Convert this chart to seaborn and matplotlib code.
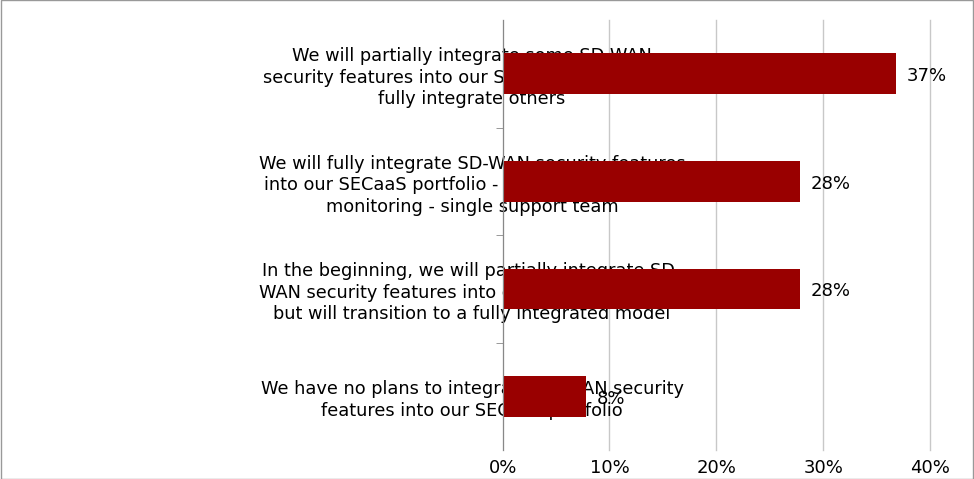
import matplotlib
matplotlib.use("Agg")
import matplotlib.pyplot as plt
import seaborn as sns
import pandas as pd
from matplotlib.ticker import FuncFormatter, FixedLocator

categories = [
    "We will partially integrate some SD-WAN\nsecurity features into our SECaaS portfolio and\nfully integrate others",
    "We will fully integrate SD-WAN security features\ninto our SECaaS portfolio - single pane of glass\nmonitoring - single support team",
    "In the beginning, we will partially integrate SD-\nWAN security features into our SECaaS portfolio\nbut will transition to a fully integrated model",
    "We have no plans to integrate SD-WAN security\nfeatures into our SECaaS portfolio",
]
values = [36.8, 27.8, 27.8, 7.8]
value_labels = ["37%", "28%", "28%", "8%"]

df = pd.DataFrame({"cat": categories, "val": values})
fig = plt.figure(figsize=(9.74, 4.79), dpi=100)
ax = fig.add_axes([0.516, 0.06, 0.439, 0.898])
sns.barplot(data=df, y="cat", x="val", color="#990000", width=0.38, ax=ax, saturation=1)
ax.set_xlim(0, 40)
ax.set_ylim(3.5, -0.5)
ax.set_xticks([0, 10, 20, 30, 40])
ax.xaxis.set_major_formatter(FuncFormatter(lambda v, p: f"{v:.0f}%"))
ax.grid(axis="x", color="#c8c8c8", linewidth=1)
for gl in ax.get_xgridlines():
    gl.set_clip_on(False)
ax.set_axisbelow(True)
for s in ["top", "right", "bottom"]:
    ax.spines[s].set_visible(False)
ax.spines["left"].set_color("#888888")
ax.tick_params(axis="x", length=0, labelsize=13, pad=6)
ax.tick_params(axis="y", length=0, labelsize=12.8, pad=22)
for lab in ax.get_yticklabels():
    lab.set_horizontalalignment("center")
    lab.set_linespacing(1.25)
ax.yaxis.set_minor_locator(FixedLocator([0.5, 1.5, 2.5]))
ax.tick_params(axis="y", which="minor", length=5, color="#888888", direction="out")
ax.set_xlabel("")
ax.set_ylabel("")
for i, (v, t) in enumerate(zip(values, value_labels)):
    ax.text(v + 1.0, i + 0.02, t, va="center", ha="left", fontsize=13)
fig.patches.append(plt.Rectangle((0.001, 0.001), 0.998, 0.998, transform=fig.transFigure,
                                 fill=False, edgecolor="#999999", linewidth=1))
fig.savefig("out.png", dpi=100)
